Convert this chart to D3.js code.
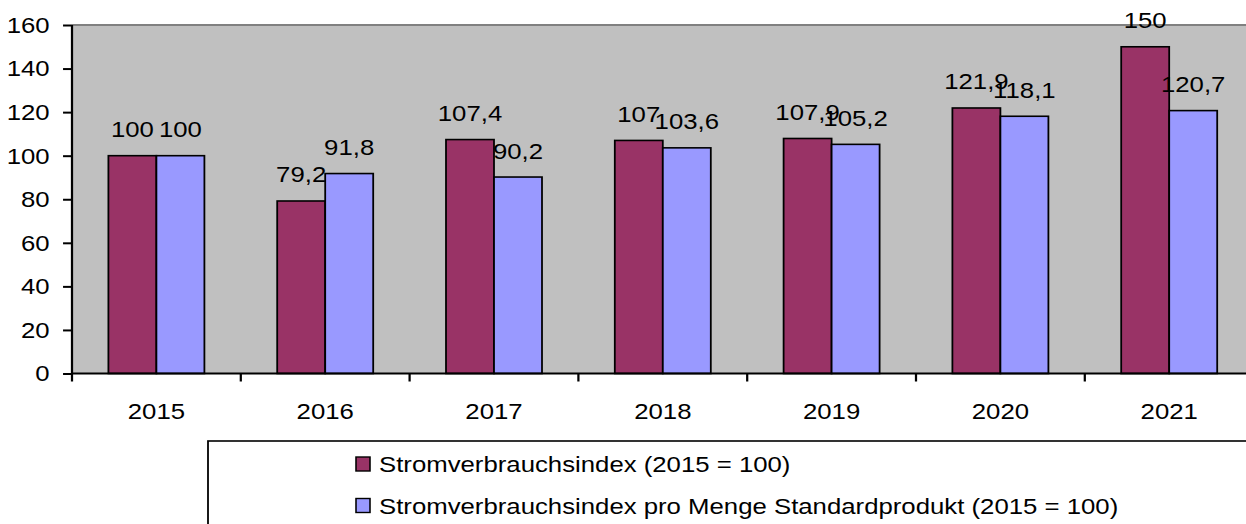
<!DOCTYPE html>
<html>
<head>
<meta charset="utf-8">
<script src="https://cdn.jsdelivr.net/npm/d3@7"></script>
<style>
  html, body { margin: 0; padding: 0; background: #fff; }
  svg { display: block; }
  text { font-family: "Liberation Sans", Arial, sans-serif; fill: #000; }
</style>
</head>
<body>
<svg id="chart"></svg>
<script>
const categories = ["2015", "2016", "2017", "2018", "2019", "2020", "2021"];
const seriesNames = ["Stromverbrauchsindex (2015 = 100)", "Stromverbrauchsindex pro Menge Standardprodukt (2015 = 100)"];
const seriesA = [100, 79.2, 107.4, 107, 107.9, 121.9, 150];
const seriesB = [100, 91.8, 90.2, 103.6, 105.2, 118.1, 120.7];
const yTicks = [0, 20, 40, 60, 80, 100, 120, 140, 160];
const colors = ["#993366", "#9999ff"];

const PX_W = 1246, PX_H = 524;
const SX = 1.12;               // horizontal stretch of the reference
const W = PX_W / SX, H = PX_H;

const svg = d3.select("#chart")
  .attr("width", PX_W).attr("height", PX_H)
  .attr("viewBox", `0 0 ${W} ${H}`)
  .attr("preserveAspectRatio", "none");

const left = 72 / SX;
const step = 168.8 / SX;
const yTop = 25, yBottom = 373.5;
const fontSize = 23;

const x0 = d3.scaleBand().domain(categories).range([left, left + step * categories.length]).padding(0);
const barW = 48 / SX;
const x1 = d3.scaleBand().domain([0, 1])
  .range([(x0.bandwidth() - 2 * barW) / 2, (x0.bandwidth() + 2 * barW) / 2]).padding(0);
const y = d3.scaleLinear().domain([0, 160]).range([yBottom, yTop]);

// plot background
svg.append("rect")
  .attr("x", left).attr("y", y(160))
  .attr("width", x0.range()[1] - left + 20).attr("height", y(0) - y(160))
  .attr("fill", "#c0c0c0");
svg.append("line")
  .attr("x1", left).attr("x2", W + 5).attr("y1", y(160)).attr("y2", y(160))
  .attr("stroke", "#808080").attr("stroke-width", 2);

// bars
const data = categories.map((c, i) => ({ cat: c, vals: [seriesA[i], seriesB[i]] }));
const groups = svg.append("g").selectAll("g").data(data).join("g")
  .attr("transform", d => `translate(${x0(d.cat)},0)`);
groups.selectAll("rect").data(d => d.vals.map((v, k) => ({ v, k }))).join("rect")
  .attr("x", d => x1(d.k)).attr("width", x1.bandwidth())
  .attr("y", d => y(d.v)).attr("height", d => y(0) - y(d.v))
  .attr("fill", d => colors[d.k]).attr("stroke", "#000").attr("stroke-width", 1.6);
const fmt = v => String(v).replace(".", ",");
groups.selectAll("text").data(d => d.vals.map((v, k) => ({ v, k }))).join("text")
  .attr("x", d => x1(d.k) + x1.bandwidth() / 2)
  .attr("y", d => y(d.v) - 18.5)
  .attr("text-anchor", "middle")
  .attr("font-size", fontSize)
  .text(d => fmt(d.v));

// y axis
const yAxis = svg.append("g").attr("transform", `translate(${left},0)`)
  .call(d3.axisLeft(y).tickValues(yTicks).tickSize(8).tickPadding(12));
yAxis.select(".domain").attr("stroke", "#000").attr("stroke-width", 2)
  .attr("d", `M0,${y(0)}V${y(160)}`);
yAxis.selectAll(".tick line").attr("stroke", "#000").attr("stroke-width", 2);
yAxis.selectAll("text").attr("font-size", fontSize).attr("font-family", "Liberation Sans, Arial, sans-serif");

// x axis (labels at centers)
const xAxis = svg.append("g").attr("transform", `translate(0,${y(0)})`)
  .call(d3.axisBottom(x0).tickSize(0).tickPadding(29));
xAxis.select(".domain").attr("stroke", "#000").attr("stroke-width", 2)
  .attr("d", `M${left},0H${W + 5}`);
xAxis.selectAll("text").attr("font-size", fontSize).attr("font-family", "Liberation Sans, Arial, sans-serif");
// boundary ticks
svg.append("g").selectAll("line").data(categories).join("line")
  .attr("x1", d => x0(d)).attr("x2", d => x0(d))
  .attr("y1", y(0)).attr("y2", y(0) + 8)
  .attr("stroke", "#000").attr("stroke-width", 2);

// legend
const lgX = 208 / SX, lgY = 441;
svg.append("rect")
  .attr("x", lgX).attr("y", lgY).attr("width", W).attr("height", 200)
  .attr("fill", "#fff").attr("stroke", "#000").attr("stroke-width", 1.6);
const lg = svg.append("g").selectAll("g").data(seriesNames).join("g")
  .attr("transform", (d, i) => `translate(${356 / SX},${457 + i * 41.5})`);
lg.append("rect").attr("width", 14 / SX).attr("height", 14)
  .attr("fill", (d, i) => colors[i]).attr("stroke", "#000").attr("stroke-width", 1.4);
lg.append("text").attr("x", 23 / SX).attr("y", 15).attr("font-size", fontSize).text(d => d);
</script>
</body>
</html>
